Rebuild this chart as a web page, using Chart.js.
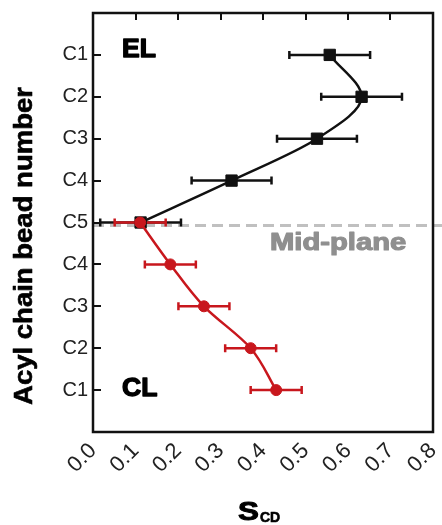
<!DOCTYPE html>
<html>
<head>
<meta charset="utf-8">
<script src="https://cdn.jsdelivr.net/npm/chart.js@4.4.1/dist/chart.umd.min.js"></script>
<style>
  html, body { margin: 0; padding: 0; background: #fff; }
  #wrap { width: 442px; height: 525px; }
</style>
</head>
<body>
<div id="wrap"><canvas id="scdChart"></canvas></div>
<script>
// bead rows from the top (EL leaflet) down through the mid-plane to the CL leaflet
const rowLabels = ['C1', 'C2', 'C3', 'C4', 'C5', 'C4', 'C3', 'C2', 'C1'];
const xTickLabels = ['0.0', '0.1', '0.2', '0.3', '0.4', '0.5', '0.6', '0.7', '0.8'];

const elRows = [0, 1, 2, 3, 4];
const elScd = [0.557, 0.632, 0.527, 0.326, 0.112];
const elErr = [0.095, 0.095, 0.094, 0.094, 0.095];

const clRows = [4, 5, 6, 7, 8];
const clScd = [0.111, 0.182, 0.261, 0.371, 0.431];
const clErr = [0.06, 0.06, 0.06, 0.06, 0.06];

const midPlaneRow = 4.07;

const RED = '#c8171d';
const BLACK = '#111111';

// stretched + stroked text, to get a heavier face than plain bold
function heavyText(ctx, text, x, y, font, stretch, stroke) {
    ctx.save();
    ctx.font = font;
    ctx.translate(x, y);
    ctx.scale(stretch, 1);
    ctx.fillText(text, 0, 0);
    if (stroke) {
        ctx.lineWidth = stroke;
        ctx.strokeStyle = ctx.fillStyle;
        ctx.lineJoin = 'round';
        ctx.strokeText(text, 0, 0);
    }
    ctx.restore();
}

const errorBarPlugin = {
    id: 'errorBars',
    beforeDatasetsDraw(chart) {
        const { ctx, scales: { x, y } } = chart;

        // dashed mid-plane line
        ctx.save();
        ctx.strokeStyle = '#c0c0c0';
        ctx.lineWidth = 3;
        ctx.setLineDash([11, 6]);
        const my = y.getPixelForValue(midPlaneRow);
        ctx.beginPath();
        ctx.moveTo(x.left, my);
        ctx.lineTo(chart.width, my);
        ctx.stroke();
        ctx.restore();

        // horizontal error bars, back dataset first
        const metas = chart.getSortedVisibleDatasetMetas().slice().reverse();
        metas.forEach(meta => {
            const ds = chart.data.datasets[meta.index];
            ctx.save();
            ctx.setLineDash([]);
            ctx.strokeStyle = ds.borderColor;
            ctx.lineWidth = 2.5;
            meta.data.forEach((pt, i) => {
                const v = ds.data[i].x;
                const e = ds.errors[i];
                const x0 = x.getPixelForValue(v - e);
                const x1 = x.getPixelForValue(v + e);
                ctx.beginPath();
                ctx.moveTo(x0, pt.y);
                ctx.lineTo(x1, pt.y);
                ctx.moveTo(x0, pt.y - 4);
                ctx.lineTo(x0, pt.y + 4);
                ctx.moveTo(x1, pt.y - 4);
                ctx.lineTo(x1, pt.y + 4);
                ctx.stroke();
            });
            ctx.restore();
        });
    },
    afterDraw(chart) {
        const { ctx, scales: { x, y } } = chart;
        const left = x.left, right = x.right, top = y.top, bottom = y.bottom;
        ctx.save();
        ctx.setLineDash([]);

        // frame
        ctx.strokeStyle = BLACK;
        ctx.lineWidth = 2.5;
        ctx.strokeRect(left, top, right - left, bottom - top);

        // leaflet labels
        ctx.fillStyle = '#000';
        ctx.textAlign = 'left';
        ctx.textBaseline = 'alphabetic';
        heavyText(ctx, 'EL', 122, 57, 'bold 26px "Liberation Sans", Arial, sans-serif', 1.02, 1.4);
        heavyText(ctx, 'CL', 122, 396, 'bold 26px "Liberation Sans", Arial, sans-serif', 1.02, 1.4);

        ctx.fillStyle = '#8f8f8f';
        heavyText(ctx, 'Mid-plane', 270, 250, 'bold 23px "Liberation Sans", Arial, sans-serif', 1.27, 1.1);

        // y axis title
        ctx.fillStyle = '#000';
        ctx.save();
        ctx.translate(32, 246);
        ctx.rotate(-Math.PI / 2);
        ctx.textAlign = 'center';
        heavyText(ctx, 'Acyl chain bead number', 0, 0, 'bold 25px "Liberation Sans", Arial, sans-serif', 1.1, 0.6);
        ctx.restore();

        // x axis title S with CD subscript
        ctx.textAlign = 'left';
        heavyText(ctx, 'S', 238, 520, 'bold 25px "Liberation Sans", Arial, sans-serif', 1.25, 1.0);
        heavyText(ctx, 'CD', 260, 522, 'bold 14px "Liberation Sans", Arial, sans-serif', 1.0, 0.6);

        ctx.restore();
    }
};

const ctx = document.getElementById('scdChart').getContext('2d');
new Chart(ctx, {
    type: 'line',
    plugins: [errorBarPlugin],
    data: {
        datasets: [
            {
                label: 'CL',
                data: clRows.map((r, i) => ({ x: clScd[i], y: r })),
                errors: clErr,
                borderColor: RED,
                backgroundColor: RED,
                borderWidth: 2.5,
                pointStyle: 'circle',
                pointRadius: 5.5,
                pointBorderWidth: 1,
                cubicInterpolationMode: 'monotone',
                order: 0
            },
            {
                label: 'EL',
                data: elRows.map((r, i) => ({ x: elScd[i], y: r })),
                errors: elErr,
                borderColor: BLACK,
                backgroundColor: BLACK,
                borderWidth: 2.5,
                pointStyle: 'rect',
                pointRadius: 8,
                pointBorderWidth: 1,
                cubicInterpolationMode: 'monotone',
                order: 1
            }
        ]
    },
    options: {
        indexAxis: 'y',
        responsive: true,
        maintainAspectRatio: false,
        animation: false,
        layout: { padding: { top: 13, right: 6, left: 0, bottom: 0 } },
        plugins: {
            legend: { display: false },
            tooltip: { enabled: false }
        },
        scales: {
            x: {
                type: 'linear',
                position: 'bottom',
                min: 0,
                max: 0.8,
                grid: { display: false, drawTicks: false },
                border: { display: false },
                ticks: {
                    stepSize: 0.1,
                    minRotation: 45,
                    maxRotation: 45,
                    autoSkip: false,
                    padding: 6,
                    color: '#222',
                    font: { family: '"Liberation Sans", Arial, sans-serif', size: 22 },
                    callback: (v, i) => xTickLabels[i]
                },
                afterFit: (scale) => {
                    scale.height = 93;
                    scale.paddingLeft = 0;
                    scale.paddingRight = 0;
                }
            },
            // unlabelled top axis, only for the short inward tick marks
            xTop: {
                type: 'linear',
                axis: 'x',
                position: 'top',
                min: 0,
                max: 0.8,
                border: { display: false },
                grid: {
                    display: true,
                    drawOnChartArea: false,
                    drawTicks: true,
                    tickLength: -7,
                    color: BLACK,
                    lineWidth: 2
                },
                ticks: { display: false, stepSize: 0.1, autoSkip: false },
                afterFit: (scale) => {
                    scale.height = 0;
                    scale.paddingLeft = 0;
                    scale.paddingRight = 0;
                }
            },
            y: {
                type: 'linear',
                reverse: true,
                min: -1,
                max: 9,
                border: { display: false },
                grid: {
                    display: true,
                    drawOnChartArea: false,
                    drawTicks: true,
                    tickLength: -8,
                    color: BLACK,
                    lineWidth: 2
                },
                ticks: {
                    stepSize: 1,
                    autoSkip: false,
                    padding: 13,
                    color: '#222',
                    font: { family: '"Liberation Sans", Arial, sans-serif', size: 20 },
                    callback: (v) => rowLabels[v] || ''
                },
                afterFit: (scale) => {
                    scale.width = 93;
                    scale.paddingTop = 0;
                    scale.paddingBottom = 0;
                }
            }
        }
    }
});
</script>
</body>
</html>
